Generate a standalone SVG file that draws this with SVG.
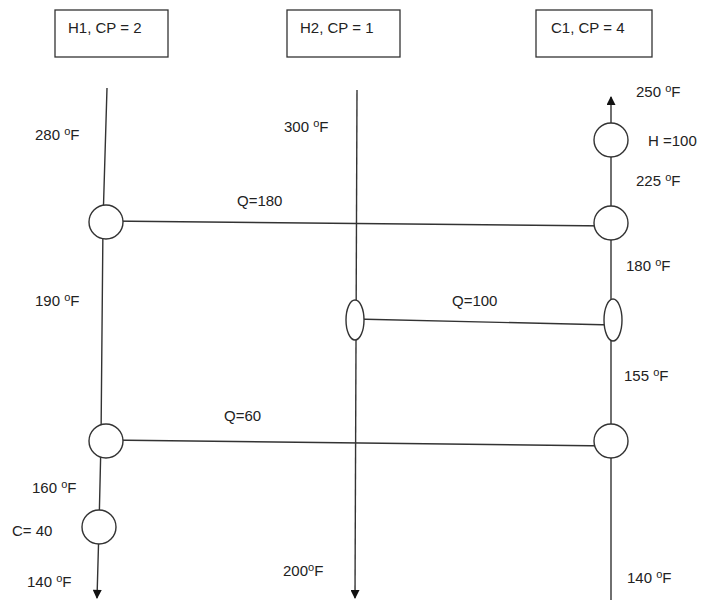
<svg xmlns="http://www.w3.org/2000/svg" width="702" height="614" viewBox="0 0 702 614">
<style>
.box{fill:#fff;stroke:#333;stroke-width:1.3}
.ln{fill:none;stroke:#333;stroke-width:1.4}
.hx{fill:#fff;stroke:#333;stroke-width:1.4}
text{font-family:"Liberation Sans",Arial,sans-serif;font-size:15px;fill:#222}
.sup{font-size:11px}
</style>
<defs>
<marker id="arr" viewBox="0 0 10 10" refX="9" refY="5" markerWidth="10" markerHeight="9" orient="auto" markerUnits="userSpaceOnUse">
<path d="M0,0 L10,5 L0,10 z" fill="#111"/>
</marker>
</defs>
<rect width="702" height="614" fill="#fff"/>
<g id="streams">
<path class="ln" d="M107,88 L103,222 L101,441 L99,527 L97,598" marker-end="url(#arr)"/>
<path class="ln" d="M357,90 L355,598" marker-end="url(#arr)"/>
<path class="ln" d="M611,600 L611,97" marker-end="url(#arr)"/>
</g>
<g id="connectors">
<line class="ln" x1="106" y1="221" x2="611" y2="226"/>
<line class="ln" x1="355" y1="319" x2="613" y2="325"/>
<line class="ln" x1="106" y1="440" x2="611" y2="446"/>
</g>
<g id="H1">
<rect class="box" x="55" y="10" width="113" height="47"/>
<text x="68" y="33">H1, CP = 2</text>
</g>
<g id="H2">
<rect class="box" x="287" y="10" width="113" height="47"/>
<text x="300" y="33">H2, CP = 1</text>
</g>
<g id="C1">
<rect class="box" x="536" y="10" width="116" height="47"/>
<text x="551" y="33">C1, CP = 4</text>
</g>
<g id="ex-180-H1"><circle class="hx" cx="106" cy="222" r="17"/></g>
<g id="ex-180-C1"><circle class="hx" cx="611" cy="223" r="17"/></g>
<g id="ex-100-H2"><ellipse class="hx" cx="355" cy="320" rx="9" ry="20"/></g>
<g id="ex-100-C1"><ellipse class="hx" cx="613" cy="320" rx="9" ry="21"/></g>
<g id="ex-60-H1"><circle class="hx" cx="106" cy="441" r="17"/></g>
<g id="ex-60-C1"><circle class="hx" cx="611" cy="441" r="17"/></g>
<g id="cooler"><circle class="hx" cx="99" cy="527" r="17"/></g>
<g id="heater"><circle class="hx" cx="611" cy="140" r="17"/></g>
<g id="labels">
<text x="35" y="140">280 <tspan class="sup" dy="-5">o</tspan><tspan dy="5">F</tspan></text>
<text x="284" y="132">300 <tspan class="sup" dy="-5">o</tspan><tspan dy="5">F</tspan></text>
<text x="237" y="206">Q=180</text>
<text x="636" y="97">250 <tspan class="sup" dy="-5">o</tspan><tspan dy="5">F</tspan></text>
<text x="648" y="146">H =100</text>
<text x="636" y="186">225 <tspan class="sup" dy="-5">o</tspan><tspan dy="5">F</tspan></text>
<text x="626" y="271">180 <tspan class="sup" dy="-5">o</tspan><tspan dy="5">F</tspan></text>
<text x="35" y="306">190 <tspan class="sup" dy="-5">o</tspan><tspan dy="5">F</tspan></text>
<text x="452" y="306">Q=100</text>
<text x="624" y="381">155 <tspan class="sup" dy="-5">o</tspan><tspan dy="5">F</tspan></text>
<text x="224" y="421">Q=60</text>
<text x="32" y="493">160 <tspan class="sup" dy="-5">o</tspan><tspan dy="5">F</tspan></text>
<text x="12" y="536">C= 40</text>
<text x="27" y="587">140 <tspan class="sup" dy="-5">o</tspan><tspan dy="5">F</tspan></text>
<text x="283" y="576">200<tspan class="sup" dy="-5">o</tspan><tspan dy="5">F</tspan></text>
<text x="627" y="583">140 <tspan class="sup" dy="-5">o</tspan><tspan dy="5">F</tspan></text>
</g>
</svg>
